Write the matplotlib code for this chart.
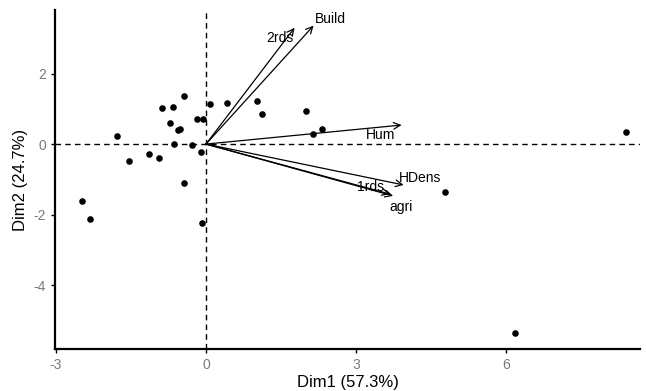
import matplotlib.pyplot as plt

plt.rcParams['font.family'] = ['Liberation Sans', 'DejaVu Sans']
plt.rcParams['axes.unicode_minus'] = False

# individual coordinates
dim1 = [-1.77, -1.53, -1.13, -0.93, -0.87, -0.66, -0.43, -0.71, -0.56, -0.52,
        -0.63, -0.27, -0.18, -0.05, -0.09, -0.43, 0.09, 0.43, 1.01, 1.12,
        1.99, 2.13, 2.31, 8.39, 4.78, -2.48, -2.31, -0.07, 6.18]
dim2 = [0.22, -0.49, -0.29, -0.39, 1.01, 1.05, 1.37, 0.60, 0.40, 0.43,
        -0.01, -0.03, 0.71, 0.71, -0.23, -1.10, 1.13, 1.17, 1.22, 0.85,
        0.94, 0.30, 0.43, 0.33, -1.37, -1.62, -2.12, -2.23, -5.37]

# variable arrows
var_names = ["Build", "2rds", "Hum", "HDens", "1rds", "agri"]
var_x = [2.15, 1.77, 3.91, 3.95, 3.68, 3.74]
var_y = [3.36, 3.30, 0.54, -1.16, -1.42, -1.47]
lab_x = [2.48, 1.48, 3.48, 4.28, 3.28, 3.89]
lab_y = [3.55, 3.00, 0.26, -0.95, -1.21, -1.78]

fig = plt.figure(figsize=(6.46, 3.91), dpi=100)
ax = fig.add_axes([0.085, 0.107, 0.906, 0.867])

ax.axhline(0, color='black', lw=1.0, ls=(0, (4, 3)), zorder=1)
ax.axvline(0, color='black', lw=1.0, ls=(0, (4, 3)), zorder=1)

ax.scatter(dim1, dim2, s=14, color='black', zorder=3)

for name, x, y, lx, ly in zip(var_names, var_x, var_y, lab_x, lab_y):
    ax.annotate("", xy=(x, y), xytext=(0, 0),
                arrowprops=dict(arrowstyle='->', color='black', lw=0.9,
                                shrinkA=0, shrinkB=0, mutation_scale=12))
    ax.text(lx, ly, name, fontsize=10, ha='center', va='center')

ax.set_xlim(-3.02, 8.68)
ax.set_ylim(-5.82, 3.8)
ax.set_xticks([-3, 0, 3, 6])
ax.set_yticks([-4, -2, 0, 2])
ax.set_xlabel("Dim1 (57.3%)", fontsize=12, labelpad=2)
ax.set_ylabel("Dim2 (24.7%)", fontsize=12, labelpad=4)
ax.tick_params(colors='black', labelcolor='#7a7a7a', labelsize=10,
               length=3, width=1)
for side in ['top', 'right']:
    ax.spines[side].set_visible(False)
for side in ['left', 'bottom']:
    ax.spines[side].set_linewidth(1.6)

fig.savefig("out.png", dpi=100)
